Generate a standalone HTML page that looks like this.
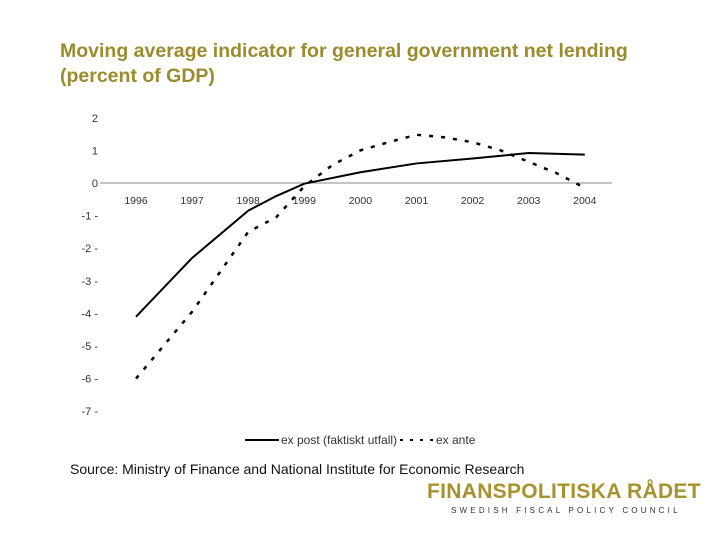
<!DOCTYPE html>
<html><head><meta charset="utf-8"><style>
body{margin:0;width:720px;height:540px;background:#fff;overflow:hidden;font-family:"Liberation Sans",sans-serif;position:relative}
.t{position:absolute;left:60px;top:39px;color:#9c8b2c;font-weight:bold;font-size:19.5px;line-height:25px;white-space:nowrap}
.src{position:absolute;left:70px;top:461px;font-size:14px;color:#111;white-space:nowrap}
.logo{position:absolute;left:427px;top:480px;color:#a8922e;font-weight:bold;font-size:21px;letter-spacing:0.3px}
.sub{position:absolute;left:451px;top:506px;font-size:8px;letter-spacing:3.2px;color:#333;white-space:nowrap}
</style></head><body>
<div class="t">Moving average indicator for general government net lending<br>(percent of GDP)</div>
<svg id="c" width="720" height="540" style="position:absolute;left:0;top:0"></svg>
<div class="src">Source: Ministry of Finance and National Institute for Economic Research</div>
<div class="logo">FINANSPOLITISKA RÅDET</div>
<div class="sub">SWEDISH FISCAL POLICY COUNCIL</div>
<script>
const years=["1996","1997","1998","1999","2000","2001","2002","2003","2004"];
const yTicks=[2,1,0,-1,-2,-3,-4,-5,-6,-7];
const exPostT=[1996,1997,1998,1998.5,1999,2000,2001,2002,2003,2004];
const exPost=[-4.1,-2.3,-0.85,-0.4,-0.02,0.33,0.6,0.75,0.92,0.87];
const exAnteT=[1996,1997,1998,1998.5,1999,1999.5,2000,2000.5,2001,2001.5,2002,2002.5,2003,2003.5,2004];
const exAnte=[-6.0,-3.95,-1.5,-1.05,-0.1,0.55,1.0,1.25,1.48,1.4,1.25,1.0,0.65,0.3,-0.15];
const svg=document.getElementById('c');const NS='http://www.w3.org/2000/svg';
const X=t=>136+(t-1996)*56.1;
const Y=v=>183-v*32.6;
function el(tag,a,txt){const e=document.createElementNS(NS,tag);for(const k in a)e.setAttribute(k,a[k]);if(txt!=null)e.textContent=txt;svg.appendChild(e);return e;}
let ax=el('line',{x1:100,x2:612,y1:Y(0),y2:Y(0),stroke:'#888','stroke-width':1});


yTicks.forEach(v=>{
 const t=el('text',{x:98,y:Y(v)+4,'text-anchor':'end','font-size':11,fill:'#333'},v<0?v+' -':String(v));
 
 
});
years.forEach((y,i)=>{
 const t=el('text',{x:X(1996+i),y:204,'text-anchor':'middle','font-size':10.5,fill:'#333'},y);
 
 
});
const p1=el('polyline',{points:exPostT.map((t,i)=>X(t)+','+Y(exPost[i])).join(' '),fill:'none',stroke:'#000','stroke-width':2});


const p2=el('polyline',{points:exAnteT.map((t,i)=>X(t)+','+Y(exAnte[i])).join(' '),fill:'none',stroke:'#000','stroke-width':2.5,'stroke-dasharray':'4 8'});


const l1=el('line',{x1:245,x2:279,y1:440,y2:440,stroke:'#000','stroke-width':2});


const lt1=el('text',{x:281,y:444,'font-size':12,fill:'#333'},'ex post (faktiskt utfall)');


const l2=el('line',{x1:400,x2:434,y1:440,y2:440,stroke:'#000','stroke-width':2,'stroke-dasharray':'3 7'});


const lt2=el('text',{x:436,y:444,'font-size':12,fill:'#333'},'ex ante');


</script>
</body></html>
